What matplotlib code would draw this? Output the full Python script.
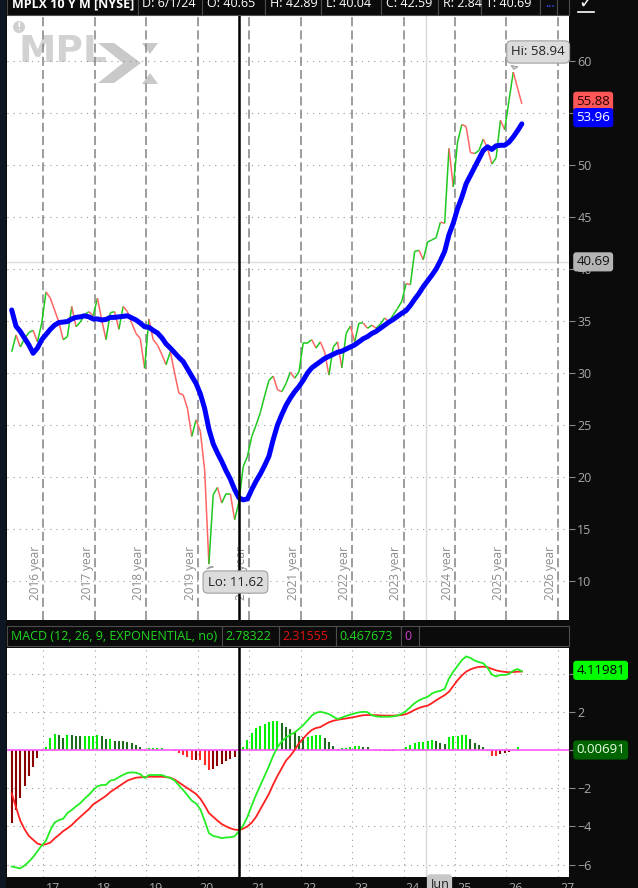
import numpy as np
import pandas as pd
import matplotlib
matplotlib.use('Agg')
import matplotlib.pyplot as plt
from matplotlib.collections import LineCollection
from matplotlib.patches import Rectangle, Polygon, Circle
from matplotlib.lines import Line2D
from matplotlib.transforms import Affine2D

plt.rcParams['font.family'] = ['Open Sans', 'DejaVu Sans']
plt.rcParams['lines.scale_dashes'] = False

W, H = 638, 888

# monthly bars May 2016 .. Apr 2026
months = pd.date_range('2016-05-01', periods=120, freq='MS')

close = [32.05, 33.65, 32.5, 33.3, 33.9, 34.1, 33.0, 34.8,
         37.8, 37.2, 36.06, 34.9, 33.2, 33.5, 36.4, 34.45, 34.9, 35.6, 35.9, 35.5,
         37.2, 35.1, 33.2, 35.8, 35.9, 34.2, 36.4, 35.9, 34.8, 33.8, 33.3, 30.45,
         35.2, 33.2, 32.7, 31.8, 30.8, 32.05, 30.0, 28.05, 27.9, 26.6, 23.9, 25.5,
         24.4, 20.7, 11.62, 18.3, 19.0, 17.5, 18.4, 18.4, 15.9, 17.6, 21.0, 22.0,
         23.9, 25.0, 26.2, 27.8, 29.3, 29.7, 28.4, 28.2, 29.0, 30.1, 29.5, 30.1,
         32.9, 32.9, 33.2, 32.4, 33.0, 32.0, 29.8, 32.5, 33.0, 30.5, 33.8, 34.5,
         33.0, 34.8, 34.8, 34.3, 34.6, 34.3, 34.7, 35.3, 34.9, 35.6, 36.2, 36.9,
         38.6, 38.5, 41.7, 41.8, 40.9, 42.59, 42.8, 43.0, 44.5, 44.4, 51.6, 47.9,
         52.2, 53.9, 53.7, 51.2, 51.1, 51.4, 52.5, 51.6, 50.1, 50.7, 54.3, 53.4,
         56.2, 58.94, 57.4, 55.88]

avg = [36.06, 34.5, 34.0, 33.35, 32.7, 31.9, 32.4, 33.2, 33.7, 34.2, 34.6, 34.85,
       34.9, 34.95, 35.2, 35.35, 35.4, 35.5, 35.4, 35.2, 35.2, 35.1, 35.15, 35.35,
       35.35, 35.4, 35.45, 35.5, 35.3, 35.1, 34.8, 34.45, 34.4, 34.1, 33.85, 33.4,
       32.8, 32.4, 31.95, 31.5, 31.1, 30.4, 29.7, 29.0, 28.0, 26.6, 24.6, 23.2,
       22.3, 21.5, 20.6, 19.8, 18.8, 18.0, 17.8, 17.9, 18.8, 19.6, 20.3, 21.1,
       22.0, 23.6, 25.0, 26.0, 26.9, 27.6, 28.2, 28.7, 29.3, 30.0, 30.5, 30.8,
       31.1, 31.4, 31.6, 31.8, 32.0, 32.1, 32.3, 32.5, 32.7, 33.0, 33.3, 33.5,
       33.8, 34.0, 34.3, 34.6, 34.9, 35.15, 35.45, 35.75, 36.0, 36.5, 37.1, 37.65,
       38.3, 38.85, 39.4, 40.0, 40.8, 41.7, 43.3, 44.4, 45.8, 46.9, 48.2, 49.0,
       49.8, 50.6, 51.4, 51.75, 51.5, 51.85, 51.9, 51.9, 52.2, 52.7, 53.3, 53.96]

macd = [-6.1, -6.15, -6.2, -6.05, -5.85, -5.6, -5.3, -5.0, -4.75, -4.2, -3.8, -3.67,
        -3.6, -3.3, -3.14, -2.95, -2.78, -2.55, -2.35, -2.1, -1.9, -1.83, -1.83, -1.6,
        -1.56, -1.42, -1.3, -1.2, -1.17, -1.19, -1.27, -1.47, -1.31, -1.31, -1.31, -1.31,
        -1.4, -1.46, -1.6, -1.85, -2.1, -2.37, -2.65, -2.8, -3.1, -3.7, -4.35, -4.5,
        -4.55, -4.62, -4.58, -4.57, -4.52, -4.25, -3.95, -3.5, -2.9, -2.35, -1.85, -1.35,
        -0.85, -0.3, 0.15, 0.45, 0.65, 0.8, 0.92, 1.1, 1.3, 1.55, 1.8, 1.95,
        2.0, 1.95, 1.88, 1.75, 1.62, 1.7, 1.78, 1.85, 1.92, 1.97, 2.0, 1.98,
        1.82, 1.76, 1.74, 1.74, 1.74, 1.76, 1.8, 1.9, 2.04, 2.25, 2.45, 2.6,
        2.7, 2.78, 2.95, 3.05, 3.1, 3.2, 3.75, 4.1, 4.4, 4.7, 4.9, 4.82,
        4.68, 4.6, 4.54, 4.3, 3.95, 3.85, 3.93, 3.93, 3.98, 4.15, 4.24, 4.12]

signal = [-2.27, -3.0, -3.7, -4.15, -4.5, -4.7, -4.9, -4.97, -4.93, -4.85, -4.63, -4.45,
          -4.25, -4.1, -3.93, -3.7, -3.5, -3.3, -3.1, -2.85, -2.7, -2.55, -2.4, -2.2,
          -2.05, -1.9, -1.75, -1.6, -1.52, -1.45, -1.43, -1.42, -1.4, -1.4, -1.4, -1.4,
          -1.42, -1.45, -1.55, -1.7, -1.85, -2.0, -2.15, -2.3, -2.55, -2.9, -3.3, -3.5,
          -3.7, -3.88, -4.0, -4.1, -4.17, -4.19, -4.12, -4.0, -3.8, -3.5, -3.1, -2.7,
          -2.3, -1.8, -1.35, -0.95, -0.55, -0.3, 0.0, 0.35, 0.6, 0.85, 1.05, 1.15,
          1.2, 1.33, 1.45, 1.53, 1.58, 1.62, 1.65, 1.69, 1.73, 1.78, 1.82, 1.83,
          1.83, 1.82, 1.81, 1.8, 1.8, 1.8, 1.81, 1.83, 1.88, 1.98, 2.1, 2.2,
          2.27, 2.32, 2.45, 2.6, 2.74, 2.87, 3.05, 3.35, 3.65, 3.9, 4.1, 4.22,
          4.3, 4.35, 4.36, 4.33, 4.25, 4.17, 4.12, 4.09, 4.07, 4.08, 4.1, 4.11]

# header / cursor readouts
header_cells = ['MPLX 10 Y M [NYSE]', 'D: 6/1/24', 'O: 40.65', 'H: 42.89',
                'L: 40.04', 'C: 42.59', 'R: 2.84', 'T: 40.69']
cursor_price = 40.69
macd_cells = ['MACD (12, 26, 9, EXPONENTIAL, no)', '2.78322', '2.31555', '0.467673', '0']
macd_last = '4.11981'
diff_last = '0.00691'

close = np.array(close)
avg = np.array(avg)
macd = np.array(macd)
signal = np.array(signal)
hist = macd - signal
x = np.arange(len(close))

ext = pd.date_range('2016-05-01', periods=130, freq='MS')
jan = [(i - 0.6, d.year) for i, d in enumerate(ext) if d.month == 1]

fig = plt.figure(figsize=(W / 100, H / 100), dpi=100, facecolor='#0b0b0b')
px = Affine2D().scale(1 / W, -1 / H).translate(0, 1) + fig.transFigure

ax = fig.add_axes([7 / W, 1 - 620 / H, 562 / W, 604 / H])
ax2 = fig.add_axes([7 / W, 1 - 877 / H, 562 / W, 229 / H])
for a in (ax, ax2):
    a.set_facecolor('white')
    for s in a.spines.values():
        s.set_visible(False)
    a.set_xlim(-1.1, 130.0)
    a.set_xticks([])
    a.yaxis.tick_right()
    a.tick_params(axis='y', colors='#8a8a8a', labelcolor='#a8a8a8', labelsize=9,
                  length=4, width=0.8, pad=2)
    a.axvline(53.05, color='black', lw=1.8, zorder=6)
    a.axvline(96.75, color='#d9d9d9', lw=1, zorder=0.9)

# ---- price panel
ax.set_ylim(6.25, 64.33)
ax.set_yticks(range(10, 61, 5))
for v in range(10, 61, 5):
    ax.axhline(v, color='#9a9a9a', lw=0.8, ls=(0, (0.8, 3.6)), zorder=1)
ax.axhline(cursor_price, color='#dcdcdc', lw=1, zorder=0.9)
for xi, yr in jan:
    ax.axvline(xi, color='#8c8c8c', lw=1.2, ls=(0, (6.5, 3)), zorder=1)
    ax.text(xi - 0.25, 8.2, f'{yr - 1} year', rotation=90, ha='right', va='bottom',
            fontsize=8.5, color='#8a8a8a', zorder=2)

pts = np.column_stack([x, close])
segs = np.stack([pts[:-1], pts[1:]], axis=1)
cols = ['#1ec81e' if b >= a else '#ff6464' for a, b in zip(close[:-1], close[1:])]
ax.add_collection(LineCollection(segs, colors=cols, linewidths=1.1, zorder=4))
ax.plot(x, avg, color='#0000ff', lw=3.6, solid_capstyle='round', zorder=5)

hi_i = int(np.argmax(close))
lo_i = int(np.argmin(close))
bub = dict(boxstyle='round,pad=0.35', fc='#dcdcdc', ec='#a0a0a0', lw=0.8)
ax.annotate(f'Hi: {close[hi_i]:.2f}', xy=(hi_i, close[hi_i]), xytext=(122.8, 60.87),
            ha='center', va='center', fontsize=9.5, color='#222222', bbox=bub, zorder=8,
            annotation_clip=False,
            arrowprops=dict(arrowstyle='wedge,tail_width=0.5', fc='#dcdcdc', ec='#a0a0a0',
                            lw=0.8, relpos=(0.1, 0.2)))
ax.annotate(f'Lo: {close[lo_i]:.2f}', xy=(lo_i, close[lo_i]), xytext=(52.2, 9.9),
            ha='center', va='center', fontsize=9.5, color='#222222', bbox=bub, zorder=8,
            arrowprops=dict(arrowstyle='wedge,tail_width=0.5', fc='#dcdcdc', ec='#a0a0a0',
                            lw=0.8, relpos=(0.1, 0.8)))


def tag(a, y, s, fc, tc):
    a.text(1.013, y, s, transform=a.get_yaxis_transform(), ha='left', va='center',
           fontsize=9.5, color=tc, clip_on=False, zorder=10,
           bbox=dict(boxstyle='round,pad=0.18', fc=fc, ec=fc))


tag(ax, close[-1] + 0.25, f'{close[-1]:.2f}', '#ff5757', '#2a0000')
tag(ax, avg[-1] + 0.6, f'{avg[-1]:.2f}', '#0000ff', 'white')
tag(ax, cursor_price, f'{cursor_price:.2f}', '#b4b4b4', '#111111')

# logo watermark
ax.text(19, 62, 'MPL', transform=px, fontsize=27, fontweight='bold', family='DejaVu Sans',
        color='#d2d2d2', va='baseline', ha='left', zorder=0.5)
ax.add_patch(Polygon([(98, 43), (114, 43), (141, 63), (114, 83), (98, 83), (123, 63)],
                     closed=True, transform=px, fc='#c9c9c9', ec='none', zorder=0.5))
ax.add_patch(Polygon([(142, 43), (158, 43), (150, 54)], transform=px, fc='#c9c9c9',
                     ec='none', zorder=0.5))
ax.add_patch(Polygon([(142, 84), (158, 84), (150, 73)], transform=px, fc='#c9c9c9',
                     ec='none', zorder=0.5))
ax.add_patch(Circle((19, 27), 6, transform=px, fc='#cfcfcf', ec='none', zorder=0.5))
ax.text(19, 27.5, '!', transform=px, fontsize=7, fontweight='bold', color='white',
        ha='center', va='center', zorder=0.6)

# ---- MACD panel
ax2.set_ylim(-6.65, 5.34)
ax2.set_yticks(range(-6, 5, 2))
for v in (-6, -4, -2, 2, 4):
    ax2.axhline(v, color='#9a9a9a', lw=0.8, ls=(0, (0.8, 3.6)), zorder=1)
for xi, yr in jan:
    ax2.axvline(xi, color='#9a9a9a', lw=0.8, ls=(0, (0.8, 3.6)), zorder=1)
    ax2.text(xi + 0.5, -6.9, f'{yr % 100:02d}', ha='left', va='top', fontsize=9,
             color='#a8a8a8', clip_on=False)

prev = np.r_[hist[0], hist[:-1]]
hcol = np.where(hist >= 0, np.where(hist >= prev, '#00ee00', '#1f6b1f'),
                np.where(hist < prev, '#ff2a2a', '#8b0000'))
ax2.vlines(x, 0, hist, colors=hcol, lw=1.5, zorder=2)
ax2.axhline(0, color='#ff55ff', lw=1.2, zorder=3)
ax2.plot(x, signal, color='#ff2020', lw=1.3, zorder=4)
ax2.plot(x, macd, color='#22ee22', lw=1.3, zorder=5)

tag(ax2, macd[-1] + 0.05, macd_last, '#00ff00', '#000000')
tag(ax2, 0, diff_last, '#006400', '#e8ffe8')

# ---- frame pieces drawn in pixels
fig.add_artist(Rectangle((0, 0), 6, H, transform=px, fc='#0d1722', ec='none'))

top_edges = [7, 137.5, 202, 265, 321, 381, 438, 481, 540, 557, 569]
for a, b in zip(top_edges[:-1], top_edges[1:]):
    fig.add_artist(Rectangle((a, -6), b - a, 21, transform=px, fc='#0b0b0b',
                             ec='#4d4d4d', lw=0.8))
for (a, s) in zip(top_edges, header_cells):
    fig.text((a + 5) / W, 1 - 7 / H, s, color='white', fontsize=9, ha='left',
             va='baseline', fontweight='bold' if a == 7 else 'normal')
fig.text(545 / W, 1 - 7 / H, '...', color='#3050ff', fontsize=9, ha='left', va='baseline')
fig.text(586 / W, 1 - 8 / H, '\u2713', color='white', fontsize=13, ha='center',
         va='baseline', family='DejaVu Sans')
fig.add_artist(Line2D([578 / W, 594 / W], [1 - 12 / H, 1 - 12 / H], color='white', lw=1.2))

m_edges = [7, 221.7, 278.7, 335.6, 400.7, 419, 569]
m_cols = ['#1ed81e', '#1ed81e', '#e01010', '#1ed81e', '#d040d0']
for a, b in zip(m_edges[:-1], m_edges[1:]):
    fig.add_artist(Rectangle((a, 626), b - a, 20, transform=px, fc='#0b0b0b',
                             ec='#4d4d4d', lw=0.8))
for a, s, c in zip(m_edges, macd_cells, m_cols):
    fig.text((a + 4) / W, 1 - 640 / H, s, color=c, fontsize=9, ha='left', va='baseline')

fig.text(439.5 / W, 1 - 884 / H, 'Jun', color='#202020', fontsize=9, ha='center',
         va='center', bbox=dict(boxstyle='round,pad=0.2', fc='#c8c8c8', ec='#c8c8c8'))

fig.savefig('out.png', dpi=100, facecolor=fig.get_facecolor())
